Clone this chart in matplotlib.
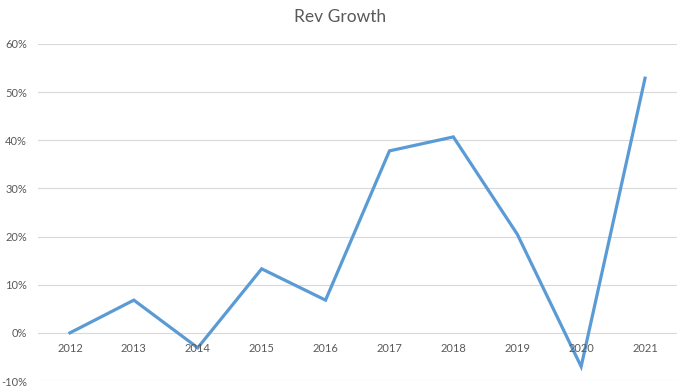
import matplotlib
matplotlib.use("Agg")
import matplotlib.pyplot as plt
from matplotlib.ticker import FuncFormatter

years = ["2012", "2013", "2014", "2015", "2016", "2017", "2018", "2019", "2020", "2021"]
growth = [0.0, 6.8, -3.1, 13.3, 6.8, 37.8, 40.7, 20.5, -7.0, 52.9]
yticks = [-10, 0, 10, 20, 30, 40, 50, 60]

plt.rcParams['font.family'] = ['Lato', 'DejaVu Sans']

fig = plt.figure(figsize=(6.81, 3.90), dpi=100)
ax = fig.add_axes([38/681, 9/390, 639/681, 337/390])

x = list(range(len(years)))
ax.plot(x, growth, color='#5B9BD5', lw=2.3, solid_joinstyle='miter', zorder=3)

ax.set_xlim(-0.5, len(years) - 0.5)
ax.set_ylim(-10, 60)
ax.set_yticks(yticks)
ax.yaxis.set_major_formatter(FuncFormatter(lambda v, p: f"{int(v)}%"))
ax.grid(axis='y', color='#D9D9D9', lw=0.8)
ax.set_axisbelow(True)
for s in ax.spines.values():
    s.set_visible(False)
ax.tick_params(axis='y', length=0, pad=8, labelsize=8, labelcolor='#595959')
ax.set_xticks([])
for xi, lab in zip(x, years):
    ax.annotate(lab, (xi, 0), xytext=(0, -11), textcoords='offset points',
                ha='center', va='center', fontsize=8, color='#595959')

fig.text(0.5, 1 - 17/390, "Rev Growth", ha='center', va='center', fontsize=12.5, color='#595959')

fig.savefig("out.png", dpi=100)
